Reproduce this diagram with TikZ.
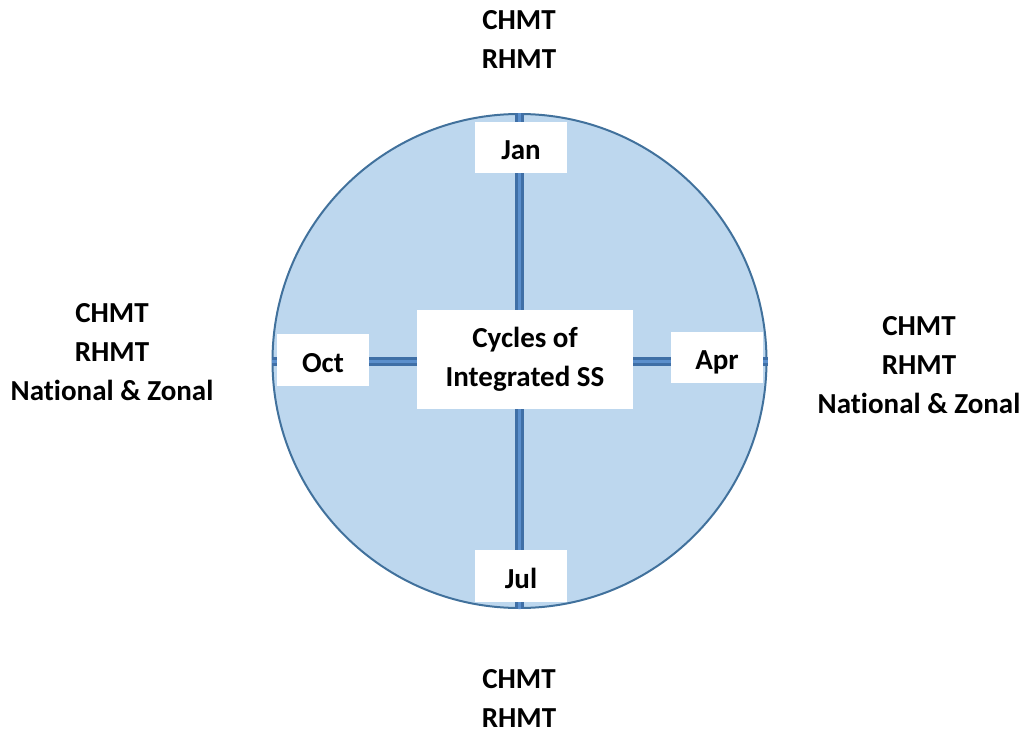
\documentclass[tikz,border=0pt]{standalone}
\usepackage{fontspec}
\setmainfont[Ligatures=NoCommon]{Carlito}
\definecolor{cfill}{HTML}{BDD7EE}
\definecolor{cedge}{HTML}{41719C}
\definecolor{lnout}{HTML}{3F6FA6}
\definecolor{lnin}{HTML}{5B8FCC}
\begin{document}
\begin{tikzpicture}[x=1pt,y=-1pt,
  box/.style={fill=white,draw=none,inner sep=0pt,font=\bfseries\fontsize{29}{39}\selectfont,align=center},
  month/.style={box,text height=24pt,text depth=0pt,minimum width=92pt},
  lbl/.style={inner sep=0pt,font=\bfseries\fontsize{29}{39}\selectfont,align=center},
  conn/.style={draw=lnout,line width=3pt,double=lnin,double distance=3pt}]
\useasboundingbox (0,0) rectangle (1029,734);
\node[circle,draw=cedge,line width=2pt,fill=cfill,minimum size=494pt,inner sep=0pt] (c) at (519.5,361) {};
\draw[conn] (c.north) -- (c.south);
\draw[conn] (c.west) -- (c.east);
\node[box,minimum width=216pt,minimum height=99pt] (mid) at (525,359.5) {Cycles of\\Integrated SS};
\node[month,minimum height=51pt] (jan) at (521,147.5) {Jan};
\node[month,minimum height=52pt] (oct) at (323,360) {Oct};
\node[month,minimum height=51pt] (apr) at (717,357.5) {Apr};
\node[month,minimum height=52pt] (jul) at (521,576) {Jul};
\node[lbl] (tl) at (519,39) {CHMT\\RHMT};
\node[lbl] (ll) at (112,352) {CHMT\\RHMT\\National \& Zonal};
\node[lbl] (rl) at (919,365) {CHMT\\RHMT\\National \& Zonal};
\node[lbl] (bl) at (519,698) {CHMT\\RHMT};
\end{tikzpicture}
\end{document}
